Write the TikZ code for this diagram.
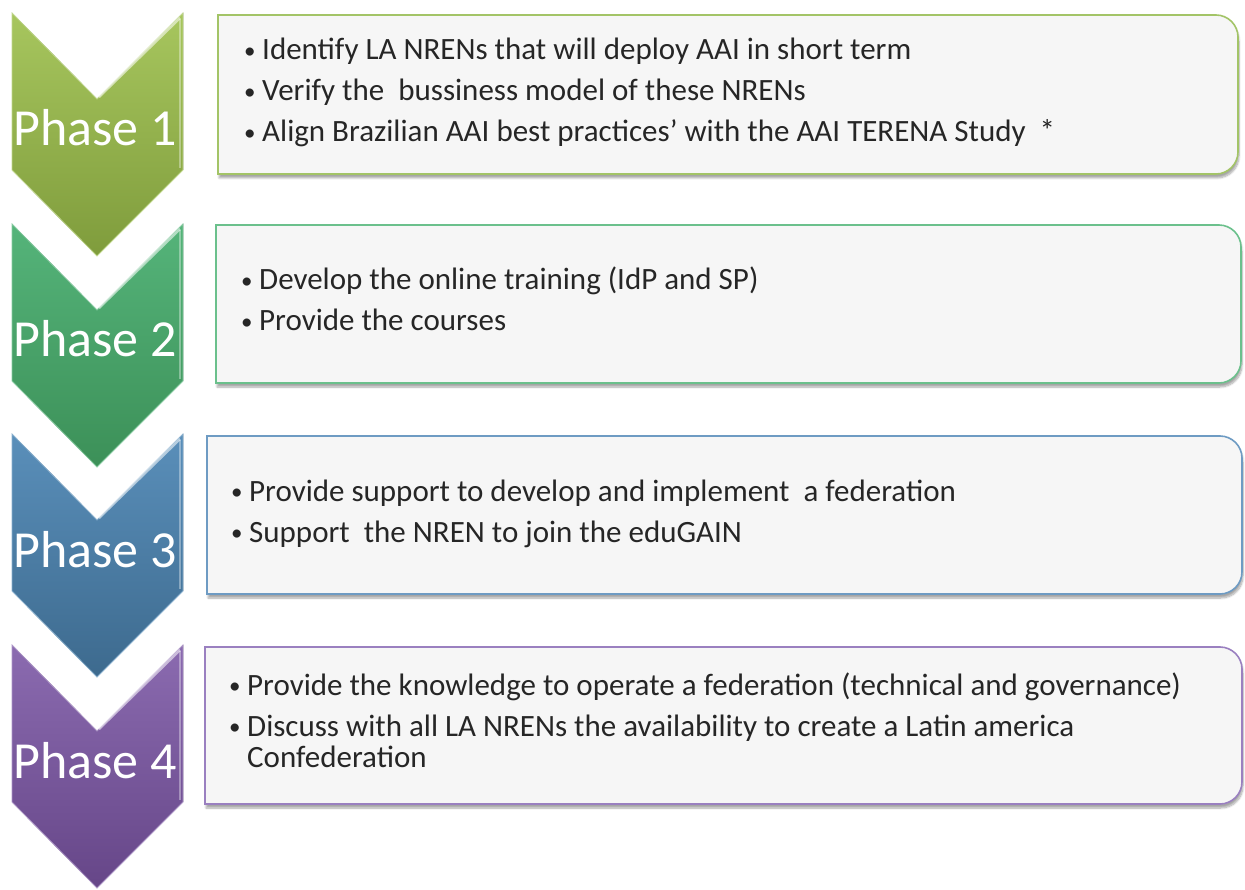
\documentclass[tikz,border=0pt]{standalone}
\usepackage{fontspec}
\setmainfont{Carlito}
\usetikzlibrary{shadows.blur}
\definecolor{ink}{HTML}{262626}
\definecolor{card}{HTML}{F6F6F6}
\definecolor{oliveT}{HTML}{A7C65E}
\definecolor{oliveB}{HTML}{7F9C3C}
\definecolor{mintT}{HTML}{55B47A}
\definecolor{mintB}{HTML}{3C9058}
\definecolor{steelT}{HTML}{5A8FBA}
\definecolor{steelB}{HTML}{3D6A8E}
\definecolor{plumT}{HTML}{8B6BB0}
\definecolor{plumB}{HTML}{664688}
\definecolor{oliveL}{HTML}{A3C467}
\definecolor{mintL}{HTML}{6BC08C}
\definecolor{steelL}{HTML}{6E9BC3}
\definecolor{plumL}{HTML}{9A80C0}
\newcommand{\itm}{\makebox[18pt][l]{\raisebox{1.5pt}{\fontsize{23}{23}\selectfont\textbullet}}}
\newcommand{\itemlist}[1]{\parbox[t]{1000pt}{\raggedright #1}}

\begin{document}
\begin{tikzpicture}[x=1pt,y=-1pt,
  card/.style={fill=card, line width=1.6pt,
    blur shadow={shadow xshift=1pt,shadow yshift=-4pt,shadow opacity=35,shadow blur steps=8}},
  phaselbl/.style={text=white, anchor=base, inner sep=0pt,
    font=\fontsize{52}{52}\selectfont},
  itemtxt/.style={anchor=base west, text=ink, inner sep=0pt,
    font=\fontsize{31}{41}\selectfont}]
  \useasboundingbox (0,0) rectangle (1245,890);
  % chevrons
  \foreach \i/\y/\ct/\cb in {1/13/oliveT/oliveB, 2/224/mintT/mintB,
                              3/434/steelT/steelB, 4/645/plumT/plumB}{
    \fill[top color=\ct, bottom color=\cb, draw=\ct!70!white, line width=0.8pt]
      (12,\y) -- (97,\y+86) -- (183,\y) -- (183,\y+157) -- (97,\y+243)
      -- (12,\y+157) -- cycle;
    \draw[white, opacity=.55, line width=2.5pt] (99,\y+84) -- (180,\y+5);
    \draw[white, opacity=.35, line width=2pt] (180,\y+6) -- (180,\y+155);
    \node[phaselbl] (ph\i) at (95,\y+133) {Phase \i};}
  % cards
  \foreach \l/\r/\t/\b/\c in {218/1238/15/174/oliveL, 216/1241/225/383/mintL,
                              207/1242/436/594/steelL, 205/1242/647/804/plumL}{
    \path[card, draw=\c] (\l,\t) -- (\r-22,\t)
      .. controls (\r-10,\t) and (\r,\t+10) .. (\r,\t+22) -- (\r,\b-22)
      .. controls (\r,\b-10) and (\r-10,\b) .. (\r-22,\b) -- (\l,\b) -- cycle;}
  % bullet texts
  \node[itemtxt] (it1) at (244,60) {\itemlist{%
    \itm Identify LA NRENs that will deploy AAI in short term\\
    \itm Verify the\ \ bussiness model of these NRENs\\
    \itm Align Brazilian AAI best practices' with the AAI TERENA Study\ \ *}};
  \node[itemtxt] (it2) at (241,290) {\itemlist{%
    \itm Develop the online training (IdP and SP)\\
    \itm Provide the courses}};
  \node[itemtxt] (it3) at (231,501) {\itemlist{%
    \itm Provide support to develop and implement\ \ a federation\\
    \itm Support\ \ the NREN to join the eduGAIN}};
  \node[itemtxt] (it4) at (229,695) {\itemlist{%
    \itm Provide the knowledge to operate a federation (technical and governance)\\
    \itm Discuss with all LA NRENs the availability to create a Latin america\\[-10pt]
    \makebox[18pt]{}Confederation}};
\end{tikzpicture}
\end{document}
